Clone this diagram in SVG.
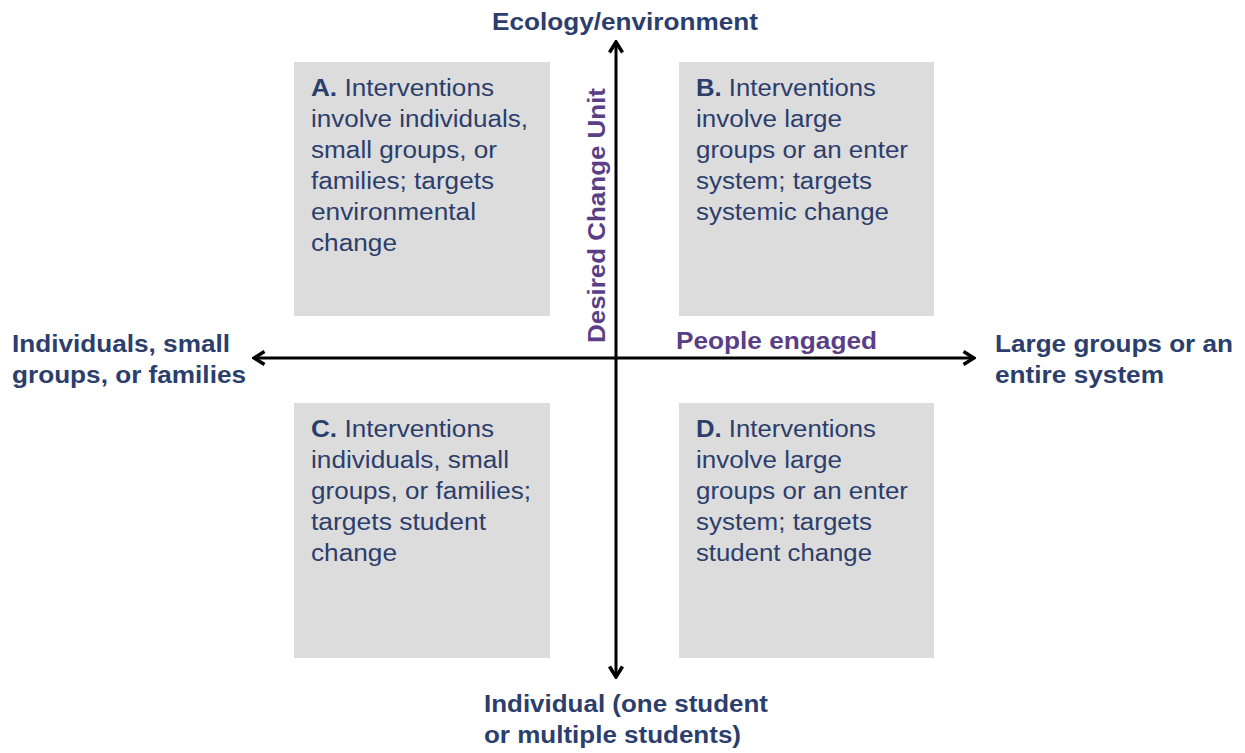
<svg xmlns="http://www.w3.org/2000/svg" width="1245" height="753" viewBox="0 0 1245 753">
<defs>
<style>
.box{fill:#dcdcdc}
.t{font-family:"Liberation Sans",Arial,sans-serif;font-size:23px;fill:#2c3e6b}
.b{font-weight:bold}
.axl{font-family:"Liberation Sans",Arial,sans-serif;font-size:23px;font-weight:bold;fill:#2c3e6b}
.pl{font-family:"Liberation Sans",Arial,sans-serif;font-size:23px;font-weight:bold;fill:#5a3f86}
.ax{stroke:#000;stroke-width:3;fill:none}
</style>
<marker id="arr" viewBox="0 0 14 16" refX="12" refY="8" markerWidth="14" markerHeight="16" markerUnits="userSpaceOnUse" orient="auto-start-reverse">
<path d="M1.5,1.5 L12,8 L1.5,14.5" fill="none" stroke="#000" stroke-width="3.5"/>
</marker>
</defs>
<rect width="1245" height="753" fill="#fff"/>
<g id="quadA">
<rect class="box" x="294" y="62" width="256" height="254"/>
<text class="t" x="311" y="96" textLength="183" lengthAdjust="spacingAndGlyphs"><tspan class="b">A.</tspan> Interventions</text>
<text class="t" x="311" y="127" textLength="217" lengthAdjust="spacingAndGlyphs">involve individuals,</text>
<text class="t" x="311" y="158" textLength="186" lengthAdjust="spacingAndGlyphs">small groups, or</text>
<text class="t" x="311" y="189" textLength="183" lengthAdjust="spacingAndGlyphs">families; targets</text>
<text class="t" x="311" y="220" textLength="165" lengthAdjust="spacingAndGlyphs">environmental</text>
<text class="t" x="311" y="251" textLength="86" lengthAdjust="spacingAndGlyphs">change</text>
</g>
<g id="quadB">
<rect class="box" x="679" y="62" width="255" height="254"/>
<text class="t" x="696" y="96" textLength="180" lengthAdjust="spacingAndGlyphs"><tspan class="b">B.</tspan> Interventions</text>
<text class="t" x="696" y="127" textLength="146" lengthAdjust="spacingAndGlyphs">involve large</text>
<text class="t" x="696" y="158" textLength="212" lengthAdjust="spacingAndGlyphs">groups or an enter</text>
<text class="t" x="696" y="189" textLength="176" lengthAdjust="spacingAndGlyphs">system; targets</text>
<text class="t" x="696" y="220" textLength="193" lengthAdjust="spacingAndGlyphs">systemic change</text>
</g>
<g id="quadC">
<rect class="box" x="294" y="403" width="256" height="255"/>
<text class="t" x="311" y="437" textLength="183" lengthAdjust="spacingAndGlyphs"><tspan class="b">C.</tspan> Interventions</text>
<text class="t" x="311" y="468" textLength="198" lengthAdjust="spacingAndGlyphs">individuals, small</text>
<text class="t" x="311" y="499" textLength="220" lengthAdjust="spacingAndGlyphs">groups, or families;</text>
<text class="t" x="311" y="530" textLength="175" lengthAdjust="spacingAndGlyphs">targets student</text>
<text class="t" x="311" y="561" textLength="86" lengthAdjust="spacingAndGlyphs">change</text>
</g>
<g id="quadD">
<rect class="box" x="679" y="403" width="255" height="255"/>
<text class="t" x="696" y="437" textLength="180" lengthAdjust="spacingAndGlyphs"><tspan class="b">D.</tspan> Interventions</text>
<text class="t" x="696" y="468" textLength="146" lengthAdjust="spacingAndGlyphs">involve large</text>
<text class="t" x="696" y="499" textLength="212" lengthAdjust="spacingAndGlyphs">groups or an enter</text>
<text class="t" x="696" y="530" textLength="176" lengthAdjust="spacingAndGlyphs">system; targets</text>
<text class="t" x="696" y="561" textLength="176" lengthAdjust="spacingAndGlyphs">student change</text>
</g>
<g id="connectors">
<line class="ax" x1="616" y1="677" x2="616" y2="42" marker-start="url(#arr)" marker-end="url(#arr)"/>
<line class="ax" x1="254" y1="358" x2="974" y2="358" marker-start="url(#arr)" marker-end="url(#arr)"/>
</g>
<g id="labelTop"><text class="axl" x="492" y="30" textLength="266" lengthAdjust="spacingAndGlyphs">Ecology/environment</text></g>
<g id="labelBottom">
<text class="axl" x="484" y="712" textLength="284" lengthAdjust="spacingAndGlyphs">Individual (one student</text>
<text class="axl" x="484" y="743" textLength="257" lengthAdjust="spacingAndGlyphs">or multiple students)</text>
</g>
<g id="labelLeft">
<text class="axl" x="12" y="352" textLength="218" lengthAdjust="spacingAndGlyphs">Individuals, small</text>
<text class="axl" x="12" y="383" textLength="234" lengthAdjust="spacingAndGlyphs">groups, or families</text>
</g>
<g id="labelRight">
<text class="axl" x="995" y="352" textLength="238" lengthAdjust="spacingAndGlyphs">Large groups or an</text>
<text class="axl" x="995" y="383" textLength="169" lengthAdjust="spacingAndGlyphs">entire system</text>
</g>
<g id="axisTitles">
<text class="pl" x="676" y="349" textLength="201" lengthAdjust="spacingAndGlyphs">People engaged</text>
<text class="pl" transform="translate(605,343) rotate(-90)" textLength="255" lengthAdjust="spacingAndGlyphs">Desired Change Unit</text>
</g>
</svg>
